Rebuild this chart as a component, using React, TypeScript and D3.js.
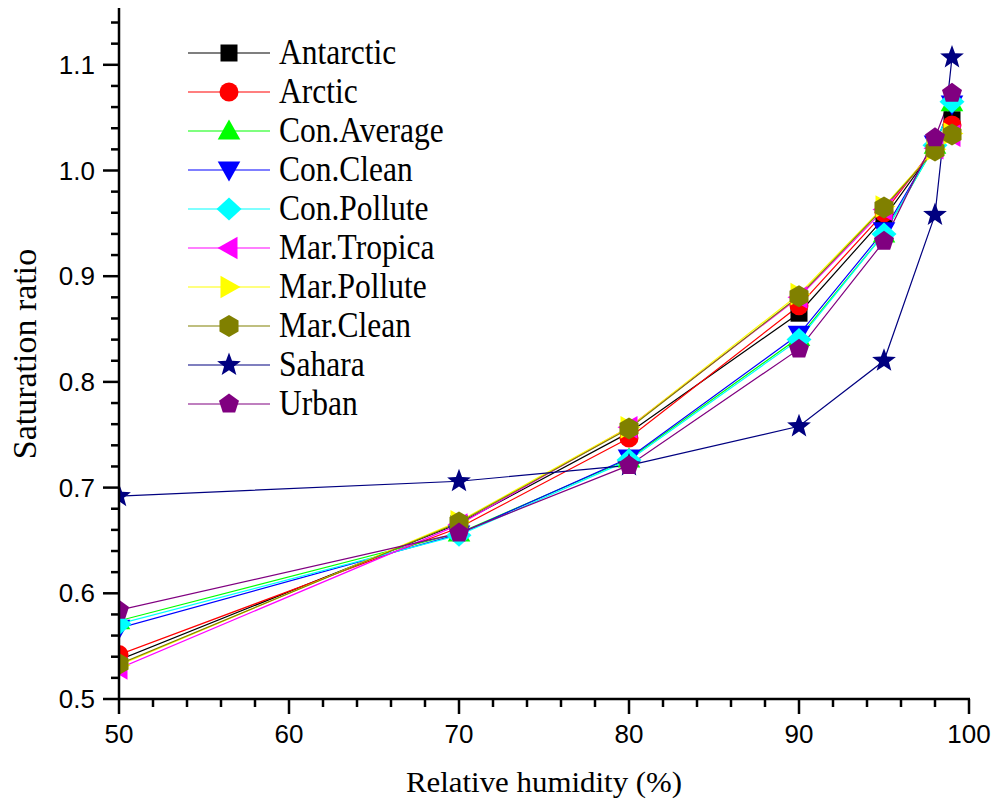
import React from "react";
import * as d3 from "d3";

const humidity = [50, 70, 80, 90, 95, 98, 99];
const seriesNames = ["Antarctic", "Arctic", "Con.Average", "Con.Clean", "Con.Pollute", "Mar.Tropica", "Mar.Pollute", "Mar.Clean", "Sahara", "Urban"];
const antarctic = [0.537, 0.666, 0.752, 0.865, 0.955, 1.022, 1.048];
const arctic = [0.542, 0.662, 0.747, 0.872, 0.960, 1.023, 1.043];
const conAverage = [0.574, 0.657, 0.727, 0.842, 0.940, 1.024, 1.064];
const conClean = [0.567, 0.656, 0.728, 0.845, 0.943, 1.025, 1.063];
const conPollute = [0.571, 0.655, 0.726, 0.840, 0.940, 1.024, 1.065];
const marTropica = [0.529, 0.665, 0.757, 0.880, 0.963, 1.021, 1.033];
const marPollute = [0.532, 0.668, 0.757, 0.883, 0.966, 1.020, 1.035];
const marClean = [0.533, 0.667, 0.756, 0.881, 0.965, 1.019, 1.034];
const sahara = [0.692, 0.706, 0.721, 0.758, 0.820, 0.958, 1.107];
const urban = [0.584, 0.657, 0.721, 0.831, 0.933, 1.031, 1.073];
const seriesValues = [antarctic, arctic, conAverage, conClean, conPollute, marTropica, marPollute, marClean, sahara, urban];
const colors = ["#000000", "#ff0000", "#00ff00", "#0000ff", "#00ffff", "#ff00ff", "#ffff00", "#808000", "#000080", "#800080"];
const shapes = ["square", "circle", "up", "down", "diamond", "left", "right", "hexagon", "star", "pentagon"];
const xTicks = [50, 60, 70, 80, 90, 100];
const yTicks = [0.5, 0.6, 0.7, 0.8, 0.9, 1.0, 1.1];

function polygon(n: number, r: number, rot: number) {
  const pts: string[] = [];
  for (let i = 0; i < n; i++) {
    const a = rot + (i * 2 * Math.PI) / n;
    pts.push(`${(r * Math.cos(a)).toFixed(2)},${(r * Math.sin(a)).toFixed(2)}`);
  }
  return "M" + pts.join("L") + "Z";
}

function star(R: number, r: number) {
  const pts: string[] = [];
  for (let i = 0; i < 10; i++) {
    const rad = i % 2 === 0 ? R : r;
    const a = -Math.PI / 2 + (i * Math.PI) / 5;
    pts.push(`${(rad * Math.cos(a)).toFixed(2)},${(rad * Math.sin(a)).toFixed(2)}`);
  }
  return "M" + pts.join("L") + "Z";
}

function markerPath(shape: string): string {
  switch (shape) {
    case "square": return "M-8.5,-8.5L8.5,-8.5L8.5,8.5L-8.5,8.5Z";
    case "circle": return d3.symbol(d3.symbolCircle, 283)() as string;
    case "up": return "M0,-11.5L11.3,8.5L-11.3,8.5Z";
    case "down": return "M0,11.5L11.3,-8.5L-11.3,-8.5Z";
    case "diamond": return "M0,-11.5L12.5,0L0,11.5L-12.5,0Z";
    case "left": return "M-11.5,0L8.5,-11.3L8.5,11.3Z";
    case "right": return "M11.5,0L-8.5,-11.3L-8.5,11.3Z";
    case "hexagon": return polygon(6, 11, Math.PI / 2);
    case "star": return star(12.5, 5.2);
    case "pentagon": return polygon(5, 10.5, -Math.PI / 2);
  }
  return "";
}

export default function App() {
  const W = 993, H = 802;
  const left = 119, right = 969, top = 8, bottom = 699;
  const x = d3.scaleLinear().domain([50, 100]).range([left, right]);
  const y = d3.scaleLinear().domain([0.5, 1.15]).range([bottom, bottom - 0.65 * 1057]);
  const line = d3.line<number>().x((_, i) => x(humidity[i])).y((d) => y(d));
  const xMinor = d3.range(50, 100.001, 2).filter((v) => v % 10 !== 0);
  const yMinor = d3.range(0.5, 1.141, 0.02).filter((v) => Math.abs(Math.round(v * 10) - v * 10) > 0.01);
  const tickFont = "'Liberation Sans', Arial, sans-serif";
  const serif = "'Liberation Serif', 'Times New Roman', serif";
  const legY0 = 53, legDy = 39;
  const xLabX = 544;

  return (
    <svg width={W} height={H} style={{ position: "absolute", left: 0, top: 0, background: "#fff" }}>
      <defs>
        <clipPath id="plot"><rect x={left} y={0} width={right - left + 20} height={bottom} /></clipPath>
      </defs>
      <g clipPath="url(#plot)">
        {seriesValues.map((vals, si) => (
          <path key={"l" + si} d={line(vals) as string} fill="none" stroke={colors[si]} strokeWidth={1.2} />
        ))}
        {seriesValues.map((vals, si) => (
          <g key={"m" + si}>
            {vals.map((v, i) => (
              <path key={i} d={markerPath(shapes[si])} transform={`translate(${x(humidity[i])},${y(v)})`} fill={colors[si]} />
            ))}
          </g>
        ))}
      </g>
      {/* axes */}
      <line x1={left} x2={left} y1={top} y2={bottom + 1} stroke="#000" strokeWidth={2.5} />
      <line x1={left - 1} x2={right + 1} y1={bottom} y2={bottom} stroke="#000" strokeWidth={2.5} />
      {xTicks.map((t) => (
        <g key={"xt" + t}>
          <line x1={x(t)} x2={x(t)} y1={bottom} y2={bottom + 15} stroke="#000" strokeWidth={2.5} />
          <text x={x(t)} y={743} textAnchor="middle" fontFamily={tickFont} fontSize={26}>{t}</text>
        </g>
      ))}
      {xMinor.map((t) => (
        <line key={"xm" + t} x1={x(t)} x2={x(t)} y1={bottom} y2={bottom + 8} stroke="#000" strokeWidth={2.5} />
      ))}
      {yTicks.map((t) => (
        <g key={"yt" + t}>
          <line x1={left - 16} x2={left} y1={y(t)} y2={y(t)} stroke="#000" strokeWidth={2.5} />
          <text x={left - 24} y={y(t) + 9} textAnchor="end" fontFamily={tickFont} fontSize={26}>{t.toFixed(1)}</text>
        </g>
      ))}
      {yMinor.map((t) => (
        <line key={"ym" + t} x1={left - 8} x2={left} y1={y(t)} y2={y(t)} stroke="#000" strokeWidth={2.5} />
      ))}
      <text transform={`translate(${xLabX},792) scale(1.03,1)`} textAnchor="middle" fontFamily={serif} fontSize={30}>Relative humidity (%)</text>
      <text transform={`translate(36,354) rotate(-90)`} textAnchor="middle" fontFamily={serif} fontSize={34}>Saturation ratio</text>
      {/* legend */}
      {seriesNames.map((name, si) => {
        const ly = legY0 + si * legDy;
        return (
          <g key={"lg" + si}>
            <line x1={188} x2={270} y1={ly} y2={ly} stroke={colors[si]} strokeWidth={1.2} />
            <path d={markerPath(shapes[si])} transform={`translate(229,${ly})`} fill={colors[si]} />
            <text transform={`translate(279,${ly + 11}) scale(0.9,1)`} fontFamily={serif} fontSize={35}>{name}</text>
          </g>
        );
      })}
    </svg>
  );
}
